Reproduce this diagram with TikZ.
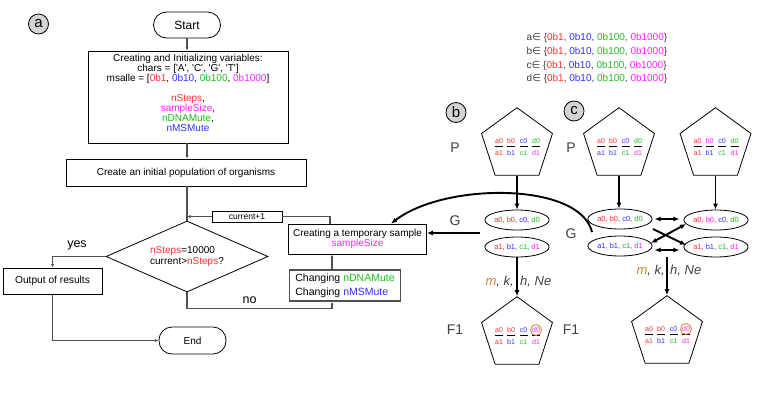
\documentclass[tikz,border=0pt]{standalone}
\usepackage{fontspec}
\setmainfont{Liberation Sans}
\newfontfamily\symfont{DejaVu Sans}
\usetikzlibrary{shapes.geometric,arrows.meta}
\definecolor{cr}{HTML}{FF3030}
\definecolor{cb}{HTML}{3030FF}
\definecolor{cg}{HTML}{22BB22}
\definecolor{cm}{HTML}{FF20FF}
\definecolor{cgray}{HTML}{404040}
\definecolor{corange}{HTML}{D2822A}
\definecolor{lnc}{HTML}{505050}
\newcommand\myfs[2]{\fontsize{#1}{#2}\selectfont}
\newcommand\sqt{\textquotesingle}
\newcommand\setline[1]{#1{\symfont ∈} \{\textcolor{cr}{0b1}, \textcolor{cb}{0b10}, \textcolor{cg}{0b100}, \textcolor{cm}{0b1000}\}}
\newcommand\elab[5]{\textcolor{#1}{a#5}, \textcolor{#2}{b#5}, \textcolor{#3}{c#5}, \textcolor{#4}{d#5}}
\newcommand\pentlab[9]{%
 \path (#1.center) +(-18,-4) node[plab,text=#2] (#1a0) {a0}
   +(-6,-4) node[plab,text=#3] (#1b0) {b0}
   +(6.5,-4) node[plab,text=#4] (#1c0) {c0}
   +(19,-4) node[plab,text=#5] (#1d0) {d0}
   +(-18,8) node[plab,text=#6] (#1a1) {a1}
   +(-6,8) node[plab,text=#7] (#1b1) {b1}
   +(6.5,8) node[plab,text=#8] (#1c1) {c1}
   +(19,8) node[plab,text=#9] (#1d1) {d1};
 \foreach \dx in {-18,-6,6.5,19}{\draw[bar] (#1.center) ++(\dx-4,1.5) -- ++(8,0);}%
}
\tikzset{
 fbox/.style={draw=black, line width=0.8pt, rectangle, inner sep=0pt, align=center},
 term/.style={fbox, rounded corners=13pt},
 arr/.style={draw=lnc, line width=1.1pt, -{Latex[length=3.5pt,width=3pt]}},
 ln/.style={draw=lnc, line width=1.1pt},
 barr/.style={draw=black, line width=1.9pt, -{Latex[length=6pt,width=5pt]}},
 dbarr/.style={draw=black, line width=1.9pt, {Latex[length=6pt,width=5pt]}-{Latex[length=6pt,width=5pt]}},
 pent/.style={draw=black, line width=0.8pt, regular polygon, regular polygon sides=5, minimum size=74.6pt, inner sep=0pt},
 plab/.style={inner sep=0pt, font=\myfs{7}{7}},
 bar/.style={draw=black, line width=1.9pt},
 ell/.style={draw=black, line width=0.8pt, ellipse, minimum width=55pt, minimum height=20pt, inner sep=0pt, font=\myfs{7.5}{8}, text=cgray},
 lbl/.style={text=cgray, font=\myfs{14}{14}, inner sep=0pt},
 mk/.style={text=cgray, font=\myfs{13}{13}\itshape, inner sep=0pt},
 circ/.style={circle, draw=black, line width=0.8pt, fill=black!17, minimum size=20pt, inner sep=0pt, font=\myfs{15}{15}},
}
\begin{document}
\begin{tikzpicture}[x=1pt,y=-1pt]
\useasboundingbox (0,0) rectangle (767,400);
\fill[white] (0,0) rectangle (767,400);
% ---------------- (a) flowchart
\node[circ] (ca) at (38.5,24) {a};
\node[term, minimum width=67pt, minimum height=26pt, font=\myfs{12}{12}] (start) at (187,25) {Start};
\node[fbox, minimum width=200pt, minimum height=92pt] (init) at (188,97) {};
\node[align=center, inner sep=0pt, font=\myfs{10}{10}] (inittxt) at (188,93) {Creating and Initializing variables:\\ chars = [\sqt A\sqt, \sqt C\sqt, \sqt G\sqt, \sqt T\sqt]\\ msalle = [\textcolor{cr}{0b1}, \textcolor{cb}{0b10}, \textcolor{cg}{0b100}, \textcolor{cm}{0b1000}]\\[10pt] \textcolor{cr}{nSteps},\\ \textcolor{cm}{sampleSize},\\ \textcolor{cg}{nDNAMute},\\ \textcolor{cb}{nMSMute}};
\node[fbox, minimum width=240pt, minimum height=27pt, font=\myfs{10}{10}] (create) at (186,172.5) {Create an initial population of organisms};
\node[diamond, aspect=2.28, draw=black, line width=0.8pt, minimum width=162pt, minimum height=71pt, inner sep=0pt, align=left, font=\myfs{10}{11}] (dia) at (187,256.5) {\textcolor{cr}{nSteps}=10000\\ current>\textcolor{cr}{nSteps}?};
\node[fbox, minimum width=70pt, minimum height=11pt, font=\myfs{8.5}{8.5}] (cur) at (247,216.5) {current+1};
\node[fbox, minimum width=138pt, minimum height=30pt, font=\myfs{10}{10.5}] (temp) at (357.5,239) {Creating a temporary sample\\ \textcolor{cm}{sampleSize}};
\node[fbox, draw=lnc, line width=1.2pt, minimum width=111pt, minimum height=31pt, align=left, font=\myfs{10.5}{14}] (chg) at (345,285.5) {Changing \textcolor{cg}{nDNAMute}\\ Changing \textcolor{cb}{nMSMute}};
\node[fbox, minimum width=99pt, minimum height=26pt, font=\myfs{10.2}{10}] (out) at (52.5,281) {Output of results};
\node[term, minimum width=67pt, minimum height=27pt, font=\myfs{10}{10}] (end) at (192.5,340.5) {End};
\node[font=\myfs{12.5}{12.5}, inner sep=0pt] (yes) at (77,245) {yes};
\node[font=\myfs{12.5}{12.5}, inner sep=0pt] (no) at (249.5,300) {no};
\draw[arr] (start.south) -- (start.south |- init.north);
\draw[arr] (init.south -| start.south) -- (create.north -| start.south);
\draw[ln] (create.south -| start.south) -- (dia.north);
\draw[ln] ([xshift=-27.5pt]temp.north) |- (cur.east);
\draw[arr] (cur.west) -- (cur.west -| dia.north);
\draw[arr] (dia.west) -| (out.north);
\draw[arr] (dia.south) -- ++(0,16) -| ([xshift=-13pt]chg.south);
\draw[arr] ([xshift=-13pt]chg.north) -- ([xshift=-13pt]chg.north |- temp.south);
\draw[arr] (out.south) |- (end.west);
% ---------------- sets
\node[anchor=west, align=left, inner sep=0pt, text=cgray, font=\myfs{10}{13.7}] (sets) at (526.5,58.7) {\setline{a}\\ \setline{b}\\ \setline{c}\\ \setline{d}};
% ---------------- (b)
\node[circ] (circb) at (456,112.5) {b};
\node[lbl] (bPl) at (455,148) {P};
\node[pent] (bP) at (517,145) {};
\pentlab{bP}{cr}{cr}{cb}{cg}{cr}{cb}{cg}{cm}
\node[ell] (bT) at (517,220) {\elab{cr}{cr}{cb}{cg}{0}};
\node[ell] (bB) at (517,247) {\elab{cr}{cb}{cg}{cm}{1}};
\node[lbl] (bGl) at (455,221) {G};
\node[lbl] (bFl) at (455,330) {F1};
\node[pent] (bF) at (517,334) {};
\pentlab{bF}{cr}{cr}{cb}{cm}{cr}{cb}{cg}{cm}
\draw[corange, line width=0.8pt] (bFd0) circle[radius=5.5pt];
\draw[barr] (bP.south) -- (bP.south |- bT.north);
\coordinate (bgfrom) at (480,233);
\draw[barr] (bgfrom) -- (bgfrom -| temp.east);
\draw[barr] (bB.south) -- (bF.north);
\node[mk, anchor=east] (bmk1) at (514,282) {\textcolor{corange}{m}, k,};
\node[mk, anchor=west] (bmk2) at (520,282) {h, Ne};
% ---------------- (c)
\node[circ] (circc) at (574,111) {c};
\node[lbl] (cPl) at (571,148) {P};
\node[pent] (cPL) at (619,145) {};
\pentlab{cPL}{cr}{cr}{cb}{cg}{cb}{cb}{cg}{cm}
\node[pent] (cPR) at (715.5,145) {};
\pentlab{cPR}{cr}{cm}{cb}{cg}{cr}{cb}{cg}{cm}
\node[ell] (cLT) at (620,219) {\elab{cr}{cr}{cb}{cg}{0}};
\node[ell] (cLB) at (620,246) {\elab{cb}{cb}{cg}{cm}{1}};
\node[ell] (cRT) at (716,220) {\elab{cr}{cm}{cb}{cg}{0}};
\node[ell] (cRB) at (716,247) {\elab{cr}{cb}{cg}{cm}{1}};
\node[lbl] (cGl) at (571,234) {G};
\node[lbl] (cFl) at (571,330) {F1};
\node[pent] (cF) at (667,333) {};
\pentlab{cF}{cr}{cr}{cb}{cm}{cr}{cb}{cg}{cm}
\draw[corange, line width=0.8pt] (cFd0) circle[radius=5.5pt];
\draw[barr] (cPL.south) -- (cPL.south |- cLT.north);
\draw[barr] (cPR.south) -- (cPR.south |- cRT.north);
\draw[dbarr, shorten <=2pt, shorten >=4pt] (cLT.east) -- (cLT.east -| cRT.west);
\draw[dbarr, shorten <=2pt, shorten >=4pt] ([yshift=-4pt]cLB.east) -- ([yshift=-4pt]cLB.east -| cRB.west);
\coordinate (x1a) at (653,229);
\coordinate (x1b) at (686,245);
\coordinate (x2a) at (651,243);
\coordinate (x2b) at (686,224);
\draw[barr] (x1a) -- (x1b);
\draw[dbarr] (x2a) -- (x2b);
\coordinate (cstart) at (592,232);
\draw[barr] (cstart) .. controls (580,182) and (445,182) .. ([xshift=33.5pt]temp.north);
\coordinate (cfrom) at (667,257);
\draw[barr] (cfrom) -- (cfrom |- cF.north);
\node[mk, anchor=east] (cmk1) at (665,271) {\textcolor{corange}{m}, k,};
\node[mk, anchor=west] (cmk2) at (670,271) {h, Ne};
\end{tikzpicture}
\end{document}
